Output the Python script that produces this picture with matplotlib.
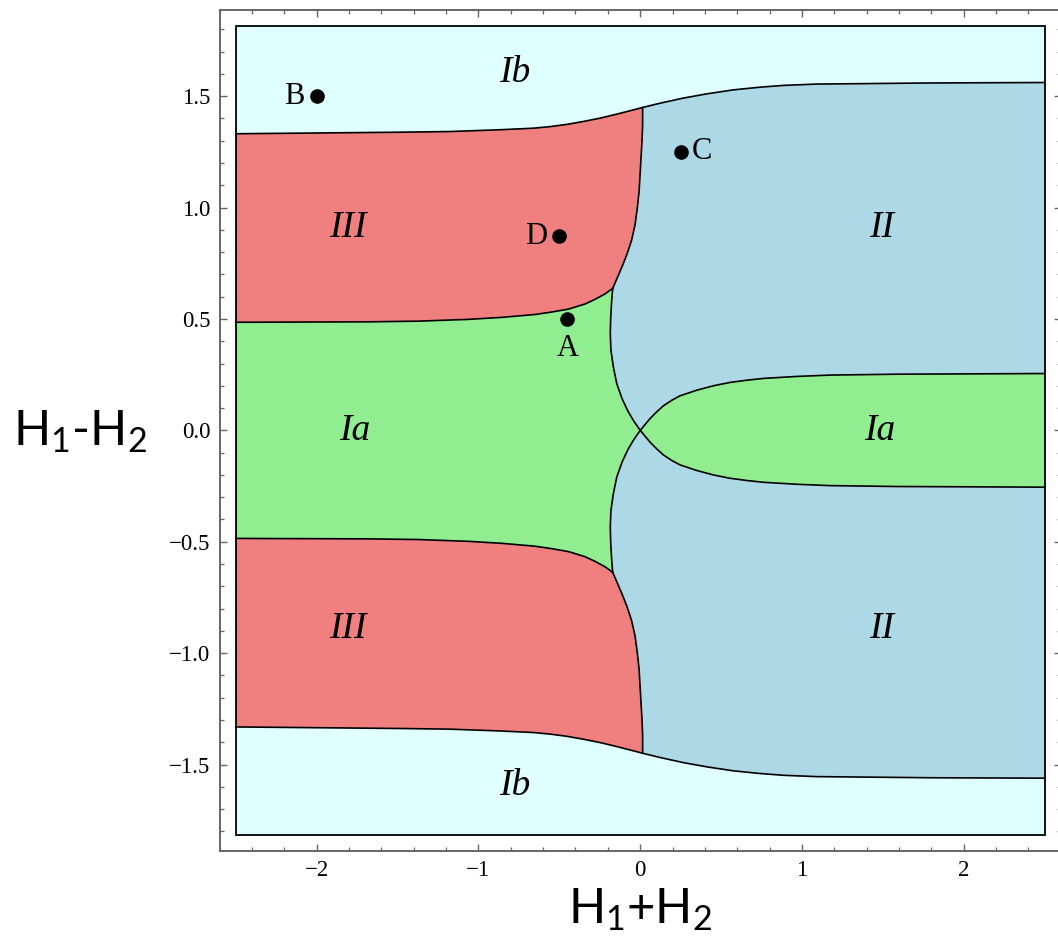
import matplotlib
matplotlib.use("Agg")
import matplotlib.pyplot as plt
from matplotlib.patches import Polygon, Rectangle
from matplotlib.ticker import FixedLocator, MultipleLocator
import numpy as np

# ---- boundaries, upper half (lower half is the mirror image) ----
# Ib / III
ib_left_x = [-2.5, -1.485, -1.176, -0.867, -0.661, -0.558, -0.454, -0.352, -0.249,
             -0.145, -0.043, 0.015]
ib_left_y = [1.331, 1.338, 1.341, 1.349, 1.356, 1.363, 1.373, 1.386, 1.401,
             1.419, 1.438, 1.449]
# Ib / II
ib_right_x = [0.015, 0.122, 0.266, 0.411, 0.576, 0.741, 0.885, 1.091, 1.235, 1.8, 2.5]
ib_right_y = [1.449, 1.468, 1.491, 1.510, 1.528, 1.540, 1.548, 1.554, 1.555, 1.559, 1.561]
# III / II
iii_ii_x = [0.015, 0.015, 0.011, 0.005, -0.001, -0.007, -0.018, -0.032, -0.053,
            -0.080, -0.108, -0.139, -0.170]
iii_ii_y = [1.449, 1.371, 1.296, 1.221, 1.146, 1.071, 0.997, 0.922, 0.854,
            0.794, 0.742, 0.689, 0.637]
# III / Ia
iii_ia_x = [-2.5, -1.681, -1.372, -1.063, -0.856, -0.650, -0.547, -0.444, -0.341,
            -0.279, -0.218, -0.170]
iii_ia_y = [0.485, 0.487, 0.490, 0.498, 0.507, 0.520, 0.531, 0.544, 0.567,
            0.588, 0.612, 0.637]
# Ia / II (left lobe, down to the origin)
ia_ii_x = [-0.170, -0.176, -0.182, -0.185, -0.181, -0.166, -0.145, -0.112, -0.075,
           -0.040, 0.0]
ia_ii_y = [0.637, 0.585, 0.510, 0.435, 0.360, 0.285, 0.210, 0.142, 0.085,
           0.042, 0.0]
# Ia / II (right tongue, from the origin)
tongue_x = [0.0, 0.030, 0.061, 0.102, 0.143, 0.195, 0.246, 0.349, 0.452, 0.555,
            0.658, 0.761, 0.968, 1.173, 1.586, 2.5]
tongue_y = [0.0, 0.026, 0.053, 0.083, 0.110, 0.135, 0.155, 0.180, 0.200, 0.215,
            0.225, 0.233, 0.242, 0.248, 0.252, 0.255]

x_edge = 2.5
y_edge = 1.814

# marked points
pt_names = ["A", "B", "C", "D"]
pt_x = [-0.45, -2.0, 0.25, -0.5]
pt_y = [0.5, 1.5, 1.25, 0.87]

# region labels
reg_names = ["Ib", "Ib", "III", "III", "II", "II", "Ia", "Ia"]
reg_x = [-0.774, -0.774, -1.806, -1.806, 1.495, 1.495, -1.762, 1.482]
reg_y = [1.605, -1.596, 0.908, -0.89, 0.908, -0.89, 0.0, 0.0]

x_ticks = [-2, -1, 0, 1, 2]
x_labels = ["\u22122", "\u22121", "0", "1", "2"]
y_ticks = [-1.5, -1.0, -0.5, 0.0, 0.5, 1.0, 1.5]
y_labels = ["\u22121.5", "\u22121.0", "\u22120.5", "0.0", "0.5", "1.0", "1.5"]

c_ib = "#E0FFFF"
c_iii = "#F08080"
c_ia = "#90EE90"
c_ii = "#ADD8E6"

plt.rcParams["mathtext.fontset"] = "custom"
plt.rcParams["mathtext.rm"] = "Lato"
plt.rcParams["mathtext.it"] = "Lato:italic"

fig = plt.figure(figsize=(10.58, 9.39), dpi=100)
ax = fig.add_axes([219.6 / 1058, 88.3 / 939, (1060.8 - 219.6) / 1058, (929.0 - 88.3) / 939])

def arr(v):
    return np.asarray(v, dtype=float)

top_x = np.concatenate([arr(ib_left_x), arr(ib_right_x)[1:]])
top_y = np.concatenate([arr(ib_left_y), arr(ib_right_y)[1:]])

# background Ib
ax.add_patch(Rectangle((-x_edge, -y_edge), 2 * x_edge, 2 * y_edge,
                       facecolor=c_ib, edgecolor="none", zorder=1))

# II: everything between upper and lower Ib boundaries
ii_poly = np.column_stack([np.concatenate([top_x, top_x[::-1]]),
                           np.concatenate([top_y, -top_y[::-1]])])
ax.add_patch(Polygon(ii_poly, closed=True, facecolor=c_ii, edgecolor="none", zorder=2))

# III (upper and lower)
for s in (1, -1):
    px = np.concatenate([arr(ib_left_x), arr(iii_ii_x)[1:], arr(iii_ia_x)[::-1][1:]])
    py = np.concatenate([arr(ib_left_y), arr(iii_ii_y)[1:], arr(iii_ia_y)[::-1][1:]])
    ax.add_patch(Polygon(np.column_stack([px, s * py]), closed=True,
                         facecolor=c_iii, edgecolor="none", zorder=3))

# Ia left
lx = np.concatenate([arr(iii_ia_x), arr(ia_ii_x)[1:], arr(ia_ii_x)[::-1][1:], arr(iii_ia_x)[::-1][1:]])
ly = np.concatenate([arr(iii_ia_y), arr(ia_ii_y)[1:], -arr(ia_ii_y)[::-1][1:], -arr(iii_ia_y)[::-1][1:]])
ax.add_patch(Polygon(np.column_stack([lx, ly]), closed=True,
                     facecolor=c_ia, edgecolor="none", zorder=3))

# Ia right
rx = np.concatenate([arr(tongue_x), arr(tongue_x)[::-1]])
ry = np.concatenate([arr(tongue_y), -arr(tongue_y)[::-1]])
ax.add_patch(Polygon(np.column_stack([rx, ry]), closed=True,
                     facecolor=c_ia, edgecolor="none", zorder=3))

# boundary lines
lw = 1.2
for s in (1, -1):
    ax.plot(top_x, s * top_y, color="black", lw=lw, zorder=5)
    ax.plot(iii_ii_x, s * arr(iii_ii_y), color="black", lw=lw, zorder=5)
    ax.plot(iii_ia_x, s * arr(iii_ia_y), color="black", lw=lw, zorder=5)
    ax.plot(ia_ii_x, s * arr(ia_ii_y), color="black", lw=lw, zorder=5)
    ax.plot(tongue_x, s * arr(tongue_y), color="black", lw=lw, zorder=5)

ax.add_patch(Rectangle((-x_edge, -y_edge), 2 * x_edge, 2 * y_edge,
                       facecolor="none", edgecolor="black", lw=1.3, zorder=6))

# points
ax.plot(pt_x, pt_y, "o", color="black", ms=9.5, zorder=7)
serif = "Liberation Serif"
offsets = {"A": (0, -21, "center", "center"), "B": (-9, 0, "right", "center"),
           "C": (8, 0, "left", "center"), "D": (-9, 0, "right", "center")}
for n, xx, yy in zip(pt_names, pt_x, pt_y):
    dx, dy, ha, va = offsets[n]
    ax.annotate(n, (xx, yy), xytext=(dx, dy), textcoords="offset points",
                ha=ha, va=va, fontsize=22, family=serif, zorder=8)

for n, xx, yy in zip(reg_names, reg_x, reg_y):
    ax.text(xx, yy, n, ha="center", va="center", fontsize=27, family=serif,
            style="italic", zorder=8)

ax.set_xlim(-2.6, 2.6)
ax.set_ylim(-1.8864, 1.8864)

ax.xaxis.set_major_locator(FixedLocator(x_ticks))
ax.set_xticklabels(x_labels)
ax.yaxis.set_major_locator(FixedLocator(y_ticks))
ax.set_yticklabels(y_labels)
ax.xaxis.set_minor_locator(MultipleLocator(0.2))
ax.yaxis.set_minor_locator(MultipleLocator(0.1))
ax.tick_params(which="both", direction="in", top=True, right=True, color="#666666")
ax.tick_params(which="major", length=5, width=1.0, pad=6.5, labelsize=16.5)
ax.tick_params(which="minor", length=2.8, width=0.9)
for lab in ax.get_xticklabels() + ax.get_yticklabels():
    lab.set_family(serif)
for sp in ax.spines.values():
    sp.set_color("#666666")
    sp.set_linewidth(1.4)

fig.text(80 / 1058, 1 - 432 / 939, "H$_1$-H$_2$", ha="center", va="center",
         fontsize=35, family="Lato")
fig.text(640 / 1058, 1 - 910 / 939, "H$_1$+H$_2$", ha="center", va="center",
         fontsize=35, family="Lato")

fig.savefig("out.png", dpi=100)
